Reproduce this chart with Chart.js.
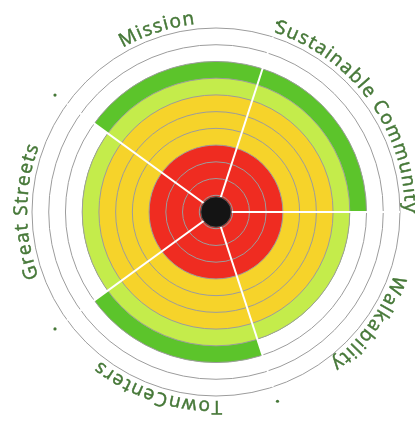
<!DOCTYPE html>
<html>
<head>
<meta charset="utf-8">
<script src="https://cdn.jsdelivr.net/npm/chart.js@4.4.0/dist/chart.umd.min.js"></script>
<style>
  html, body { margin: 0; padding: 0; background: #fff; }
  #wrap { width: 415px; height: 421px; }
</style>
</head>
<body>
<div id="wrap"><canvas id="target"></canvas></div>
<script>
const categories = ['Mission', 'Sustainable Community', 'Walkability', 'TownCenters', 'Great Streets'];
const scores = [9, 9, 8, 9, 8];

// colour bands, inner to outer: upper ring of each band
const bandLimits = [4, 7, 8, 9];
const bandColors = ['#ef2c21', '#f6d32a', '#c4ec4b', '#5cc42b'];
const centerValue = 1;
const maxRing = 11;
const labelColor = '#467838';

// dataset 0 is drawn last, so the inner band sits on top
const datasets = bandLimits.map((limit, i) => ({
    data: scores.map(s => Math.min(s, limit)),
    backgroundColor: bandColors[i],
    borderWidth: 0
}));

// curved labels, boundary dots and the black hub
const ringDecor = {
    id: 'ringDecor',
    afterDraw(chart) {
        const scale = chart.scales.r;
        const ctx = chart.ctx;
        const cx = scale.xCenter, cy = scale.yCenter;
        const step = 2 * Math.PI / categories.length;

        // hub
        ctx.save();
        ctx.beginPath();
        ctx.arc(cx, cy, scale.getDistanceFromCenterForValue(centerValue) - 1.5, 0, 2 * Math.PI);
        ctx.fillStyle = '#141414';
        ctx.fill();
        ctx.lineWidth = 1;
        ctx.strokeStyle = '#555';
        ctx.stroke();
        ctx.restore();

        const R = scale.drawingArea + 5;
        const spacing = 1.4;
        ctx.save();
        ctx.font = '19px "Open Sans"';
        ctx.fillStyle = labelColor;
        ctx.strokeStyle = labelColor;
        ctx.lineWidth = 0.5;
        ctx.textAlign = 'center';
        ctx.textBaseline = 'alphabetic';
        categories.forEach((label, i) => {
            const mid = scale.getIndexAngle(i) - Math.PI / 2 + step / 2;
            const chars = label.split('');
            const widths = chars.map(c => ctx.measureText(c).width);
            const total = widths.reduce((a, b) => a + b, 0) + spacing * (chars.length - 1);
            let x = -total / 2;
            chars.forEach((c, k) => {
                const a = mid + (x + widths[k] / 2) / R;
                ctx.save();
                ctx.translate(cx + R * Math.cos(a), cy + R * Math.sin(a));
                ctx.rotate(a + Math.PI / 2);
                ctx.fillText(c, 0, 0);
                ctx.strokeText(c, 0, 0);
                ctx.restore();
                x += widths[k] + spacing;
            });

            // dot on the boundary
            const b = scale.getIndexAngle(i) - Math.PI / 2;
            const rd = scale.drawingArea + 15;
            ctx.beginPath();
            ctx.arc(cx + rd * Math.cos(b), cy + rd * Math.sin(b), 1.6, 0, 2 * Math.PI);
            ctx.fill();
        });
        ctx.restore();
    }
};

new Chart(document.getElementById('target'), {
    type: 'polarArea',
    data: {
        labels: categories,
        datasets: datasets
    },
    options: {
        responsive: true,
        maintainAspectRatio: false,
        animation: false,
        layout: { padding: { left: 32, right: 15, top: 28, bottom: 25 } },
        plugins: {
            legend: { display: false },
            tooltip: { enabled: false }
        },
        scales: {
            r: {
                min: 0,
                max: maxRing,
                startAngle: -54,
                ticks: { display: false, stepSize: 1 },
                grid: { circular: true, color: '#9c9c9c', lineWidth: 1, z: 1 },
                angleLines: { display: true, color: '#ffffff', lineWidth: 2 },
                pointLabels: { display: false }
            }
        }
    },
    plugins: [ringDecor]
});
</script>
</body>
</html>
